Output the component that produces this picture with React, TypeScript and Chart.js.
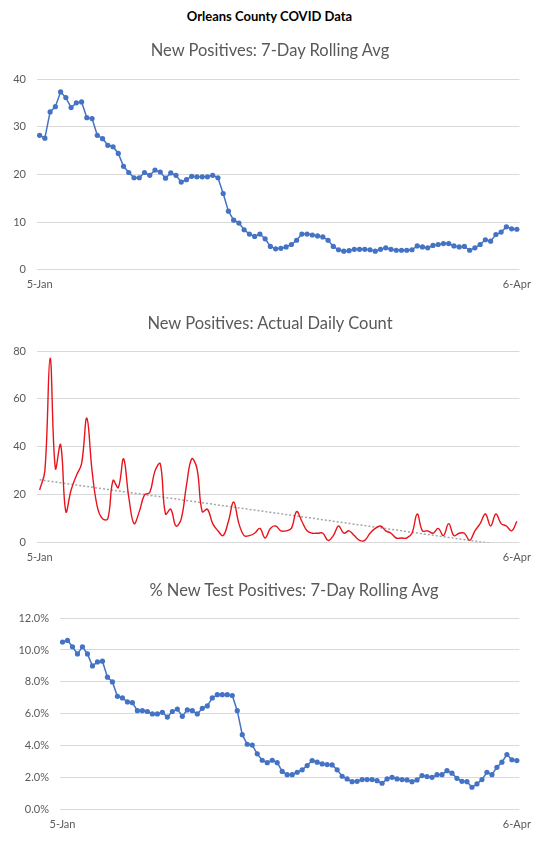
import React, { useEffect, useRef } from 'react';
import { Chart, registerables } from 'chart.js';

Chart.register(...registerables);

// ---------- data ----------
const START_YEAR = 2021;
const START_MONTH = 0; // January
const START_DAY = 5;
const DAY_COUNT = 92; // 5-Jan .. 6-Apr
const MONTH_ABBR = ['Jan', 'Feb', 'Mar', 'Apr', 'May', 'Jun', 'Jul', 'Aug', 'Sep', 'Oct', 'Nov', 'Dec'];

const DATES: string[] = Array.from({ length: DAY_COUNT }, (_, i) => {
  const d = new Date(Date.UTC(START_YEAR, START_MONTH, START_DAY + i));
  return `${d.getUTCDate()}-${MONTH_ABBR[d.getUTCMonth()]}`;
});

const MAIN_TITLE = 'Orleans County COVID Data';
const TITLE_AVG = 'New Positives: 7-Day Rolling Avg';
const TITLE_DAILY = 'New Positives: Actual Daily Count';
const TITLE_PCT = '% New Test Positives: 7-Day Rolling Avg';

const ROLLING_AVG = [
  28.2, 27.6, 33.1, 34.2, 37.3, 36.1, 34.0, 35.0, 35.2, 31.9,
  31.7, 28.2, 27.5, 26.1, 25.8, 24.4, 21.7, 20.4, 19.3, 19.3,
  20.4, 19.8, 20.9, 20.5, 19.2, 20.3, 19.8, 18.4, 18.9, 19.6,
  19.5, 19.5, 19.5, 19.8, 19.3, 16.0, 12.3, 10.4, 9.8, 8.4,
  7.5, 7.0, 7.5, 6.5, 4.9, 4.4, 4.5, 4.8, 5.3, 6.2,
  7.5, 7.5, 7.3, 7.1, 6.9, 6.2, 4.9, 4.2, 3.9, 4.0,
  4.3, 4.3, 4.3, 4.2, 3.9, 4.3, 4.6, 4.3, 4.1, 4.1,
  4.1, 4.2, 5.0, 4.8, 4.6, 5.1, 5.3, 5.5, 5.5, 5.0,
  4.8, 4.9, 4.1, 4.6, 5.3, 6.3, 6.0, 7.4, 7.9, 9.0,
  8.6, 8.5,
];

const DAILY_COUNT = [
  22, 30, 77, 31, 41, 13, 22, 28, 33, 52,
  30, 15, 10, 10, 26, 23, 35, 19, 8, 13,
  20, 21, 30, 33, 12, 14, 7, 10, 24, 35,
  31, 13, 14, 8, 5, 3, 9, 17, 8, 3,
  3, 4, 6, 2, 6, 7, 5, 5, 6, 13,
  9, 5, 4, 4, 4, 1, 3, 7, 4, 5,
  3, 1, 1, 4, 6, 7, 5, 4, 2, 2,
  2, 4, 12, 5, 5, 4, 6, 3, 8, 3,
  4, 4, 1, 5, 8, 12, 7, 12, 8, 7,
  5, 9,
];

const PCT_POSITIVE = [
  10.5, 10.6, 10.2, 9.75, 10.2, 9.75, 9.0, 9.25, 9.3, 8.3,
  8.0, 7.1, 7.0, 6.75, 6.7, 6.2, 6.2, 6.15, 6.0, 6.0,
  6.1, 5.8, 6.15, 6.3, 5.85, 6.25, 6.2, 6.0, 6.35, 6.5,
  7.0, 7.2, 7.2, 7.2, 7.15, 6.2, 4.7, 4.1, 4.05, 3.5,
  3.1, 2.95, 3.1, 2.95, 2.4, 2.2, 2.2, 2.35, 2.5, 2.77,
  3.08, 2.98, 2.87, 2.83, 2.81, 2.5, 2.1, 1.93, 1.76, 1.78,
  1.89, 1.89, 1.89, 1.82, 1.66, 1.93, 2.03, 1.93, 1.89, 1.87,
  1.76, 1.87, 2.14, 2.08, 2.03, 2.2, 2.2, 2.45, 2.29, 1.97,
  1.78, 1.76, 1.41, 1.62, 1.89, 2.35, 2.2, 2.66, 2.98, 3.46,
  3.13, 3.08,
];

const AVG_AXIS = { min: 0, max: 40, step: 10 };
const DAILY_AXIS = { min: 0, max: 80, step: 20 };
const PCT_AXIS = { min: 0, max: 12, step: 2 };

// ---------- styling ----------
const FONT = 'Lato, "Open Sans", "Liberation Sans", sans-serif';
const TEXT_GREY = '#595959';
const GRID_GREY = '#d9d9d9';
const BLUE = '#4472C4';
const RED = '#e8141c';
const TREND_GREY = '#a6a6a6';

Chart.defaults.font.family = FONT;

function linearTrend(values: number[]): number[] {
  const n = values.length;
  let sx = 0, sy = 0, sxy = 0, sxx = 0;
  values.forEach((v, i) => { sx += i; sy += v; sxy += i * v; sxx += i * i; });
  const slope = (n * sxy - sx * sy) / (n * sxx - sx * sx);
  const intercept = (sy - slope * sx) / n;
  return values.map((_, i) => intercept + slope * i);
}

type PanelOpts = {
  datasets: any[];
  axis: { min: number; max: number; step: number };
  yFormat: (v: number) => string;
  yWidth: number;
  rightPad: number;
  topPad: number;
};

function makeConfig(o: PanelOpts): any {
  const last = DATES.length - 1;
  return {
    type: 'line',
    data: { labels: DATES, datasets: o.datasets },
    options: {
      animation: false,
      responsive: false,
      devicePixelRatio: 1,
      layout: { padding: { left: 0, right: o.rightPad, top: o.topPad, bottom: 0 } },
      plugins: {
        legend: { display: false },
        tooltip: { enabled: false },
        title: { display: false },
      },
      scales: {
        x: {
          type: 'category',
          offset: true,
          grid: { display: false, drawTicks: false },
          border: { display: false },
          ticks: {
            autoSkip: false,
            maxRotation: 0,
            minRotation: 0,
            padding: 8,
            color: TEXT_GREY,
            font: { family: FONT, size: 11 },
            callback: (_v: any, i: number) => (i === 0 || i === last ? DATES[i] : ''),
          },
        },
        y: {
          min: o.axis.min,
          max: o.axis.max,
          grid: { color: GRID_GREY, lineWidth: 1, drawTicks: false },
          border: { display: false },
          ticks: {
            stepSize: o.axis.step,
            padding: 11,
            color: TEXT_GREY,
            font: { family: FONT, size: 11 },
            callback: (v: any) => o.yFormat(Number(v)),
          },
          afterFit: (s: any) => { s.width = o.yWidth; },
        },
      },
    },
  };
}

function Panel({ top, height, title, titleTop, titleCenter, config }: {
  top: number; height: number; title: string; titleTop: number; titleCenter: number; config: () => any;
}) {
  const ref = useRef<HTMLCanvasElement>(null);
  useEffect(() => {
    const chart = new Chart(ref.current as HTMLCanvasElement, config());
    return () => chart.destroy();
  }, []);
  return (
    <>
      <canvas
        ref={ref}
        width={539}
        height={height}
        style={{ position: 'absolute', left: 0, top, width: 539, height, display: 'block' }}
      />
      <div
        style={{
          position: 'absolute', top: titleTop, left: titleCenter - 200, width: 400, textAlign: 'center',
          fontFamily: FONT, fontSize: 16.5, lineHeight: '20px', color: TEXT_GREY, whiteSpace: 'nowrap',
        }}
      >
        {title}
      </div>
    </>
  );
}

const blueLine = (data: number[]) => ({
  data,
  borderColor: BLUE,
  backgroundColor: BLUE,
  borderWidth: 1.5,
  pointRadius: 2.6,
  pointBorderWidth: 0,
  pointBackgroundColor: BLUE,
  tension: 0,
});

export default function App() {
  return (
    <div style={{ position: 'absolute', left: 0, top: 0, width: 539, height: 842, background: '#fff', overflow: 'hidden' }}>
      <div
        style={{
          position: 'absolute', left: 0, top: 8, width: 539, textAlign: 'center',
          fontFamily: FONT, fontWeight: 700, fontSize: 13, lineHeight: '16px', color: '#000',
        }}
      >
        {MAIN_TITLE}
      </div>
      <Panel
        top={37}
        height={262}
        title={TITLE_AVG}
        titleTop={40}
        titleCenter={270}
        config={() => makeConfig({
          datasets: [blueLine(ROLLING_AVG)],
          axis: AVG_AXIS,
          yFormat: (v) => String(v),
          yWidth: 37,
          rightPad: 18,
          topPad: 42,
        })}
      />
      <Panel
        top={310}
        height={262}
        title={TITLE_DAILY}
        titleTop={313}
        titleCenter={270}
        config={() => makeConfig({
          datasets: [
            {
              data: DAILY_COUNT,
              borderColor: RED,
              borderWidth: 1.4,
              pointRadius: 0,
              tension: 0.4,
            },
            {
              data: linearTrend(DAILY_COUNT),
              borderColor: TREND_GREY,
              borderWidth: 1.5,
              borderDash: [2, 2],
              pointRadius: 0,
              tension: 0,
            },
          ],
          axis: DAILY_AXIS,
          yFormat: (v) => String(v),
          yWidth: 37,
          rightPad: 19,
          topPad: 41,
        })}
      />
      <Panel
        top={577}
        height={262}
        title={TITLE_PCT}
        titleTop={580}
        titleCenter={294}
        config={() => makeConfig({
          datasets: [blueLine(PCT_POSITIVE)],
          axis: PCT_AXIS,
          yFormat: (v) => `${v.toFixed(1)}%`,
          yWidth: 60,
          rightPad: 14,
          topPad: 41,
        })}
      />
    </div>
  );
}
